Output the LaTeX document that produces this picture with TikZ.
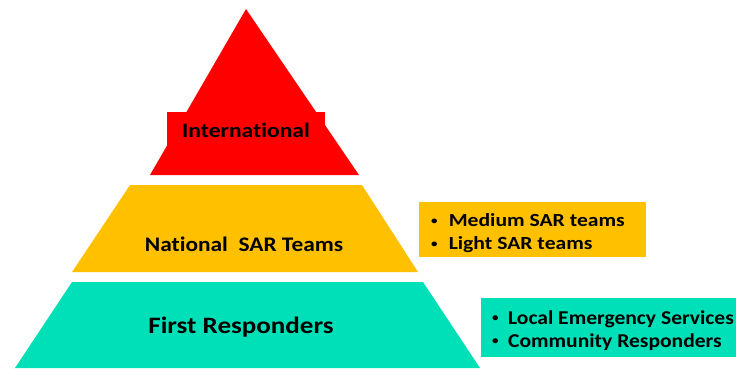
\documentclass[tikz,border=0pt]{standalone}
\usepackage{fontspec}
\setmainfont{Carlito}[Ligatures=NoCommon]
\definecolor{tred}{HTML}{FF0000}
\definecolor{tyel}{HTML}{FFC000}
\definecolor{tteal}{HTML}{00E0B8}
\newcommand{\mybul}[1]{\makebox[#1][l]{\raisebox{0.12em}{\scalebox{0.6}{\textbullet}}}}
\begin{document}
\begin{tikzpicture}[x=1pt,y=-1pt,
  lvl/.style={text=black, inner sep=0pt, anchor=base},
  lst/.style={text=black, inner sep=0pt, anchor=base west}]
\useasboundingbox (0,0) rectangle (736,369);
% red top
\fill[tred] (150,175) -- (246,9) -- (359,175) -- cycle;
\fill[tred] (167,112) rectangle (325,175);
\node[lvl] (intl) at (246,137.3) {\scalebox{1.15}[1]{\fontsize{20.5}{24}\selectfont\bfseries International}};
% yellow
\fill[tyel] (130,185) -- (362,185) -- (418,272) -- (72,272) -- cycle;
\node[lvl] (nat) at (244,251.7) {\scalebox{1.13}[1]{\fontsize{20.7}{24}\selectfont\bfseries National\ \ SAR Teams}};
% teal
\fill[tteal] (72,282) -- (423,282) -- (480,368) -- (15,368) -- cycle;
\node[lvl] (first) at (241,333.3) {\scalebox{1.15}[1]{\fontsize{23.5}{28}\selectfont\bfseries First Responders}};
% side boxes
\fill[tyel] (419,202) rectangle (646,257);
\node[lst] (natA) at (431,226.7) {\scalebox{1.17}[1]{\fontsize{18.5}{22}\selectfont\bfseries \mybul{15pt}Medium SAR teams}};
\node[lst] (natB) at (431,249.3) {\scalebox{1.17}[1]{\fontsize{18.5}{22}\selectfont\bfseries \mybul{15pt}Light SAR teams}};
\fill[tteal] (481,298) rectangle (736,357);
\node[lst] (frA) at (492,324) {\scalebox{1.1}[1]{\fontsize{19.6}{23}\selectfont\bfseries \mybul{14.5pt}Local Emergency Services}};
\node[lst] (frB) at (492,347.3) {\scalebox{1.1}[1]{\fontsize{19.6}{23}\selectfont\bfseries \mybul{14.5pt}Community Responders}};
\end{tikzpicture}
\end{document}
